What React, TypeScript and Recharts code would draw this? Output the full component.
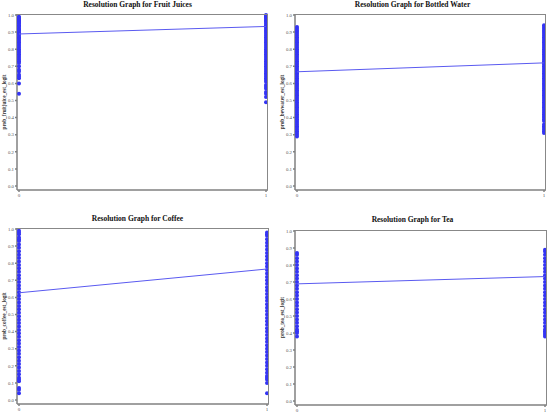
import { ScatterChart, Scatter, XAxis, YAxis } from 'recharts';

// observed predicted probabilities, split by actual outcome (0 / 1)
const fruitJuice0 = [0.99, 0.985, 0.98, 0.975, 0.97, 0.965, 0.96, 0.955, 0.95, 0.94, 0.935, 0.93, 0.92, 0.915, 0.91, 0.9, 0.895, 0.89, 0.88, 0.87, 0.865, 0.86, 0.85, 0.84, 0.83, 0.82, 0.81, 0.8, 0.79, 0.78, 0.77, 0.76, 0.75, 0.74, 0.73, 0.72, 0.7, 0.68, 0.67, 0.65, 0.64, 0.63, 0.6, 0.54];
const fruitJuice1 = [1.0, 0.995, 0.99, 0.985, 0.98, 0.97, 0.965, 0.96, 0.95, 0.94, 0.93, 0.92, 0.91, 0.9, 0.89, 0.88, 0.87, 0.86, 0.85, 0.84, 0.83, 0.82, 0.81, 0.8, 0.79, 0.78, 0.77, 0.76, 0.75, 0.74, 0.73, 0.72, 0.71, 0.7, 0.69, 0.68, 0.67, 0.66, 0.65, 0.64, 0.63, 0.62, 0.61, 0.59, 0.58, 0.57, 0.55, 0.54, 0.52, 0.49];

const water0 = [0.93, 0.92, 0.91, 0.9, 0.89, 0.88, 0.87, 0.86, 0.85, 0.84, 0.83, 0.82, 0.81, 0.8, 0.79, 0.78, 0.77, 0.76, 0.75, 0.74, 0.73, 0.72, 0.71, 0.7, 0.69, 0.68, 0.67, 0.66, 0.65, 0.64, 0.63, 0.62, 0.61, 0.6, 0.59, 0.58, 0.57, 0.56, 0.55, 0.54, 0.53, 0.52, 0.51, 0.5, 0.49, 0.48, 0.47, 0.46, 0.45, 0.44, 0.43, 0.42, 0.41, 0.4, 0.39, 0.38, 0.37, 0.36, 0.35, 0.34, 0.33, 0.32, 0.31, 0.3, 0.29];
const water1 = [0.94, 0.93, 0.92, 0.91, 0.9, 0.89, 0.88, 0.87, 0.86, 0.85, 0.84, 0.83, 0.82, 0.81, 0.8, 0.79, 0.78, 0.77, 0.76, 0.75, 0.74, 0.73, 0.72, 0.71, 0.7, 0.69, 0.68, 0.67, 0.66, 0.65, 0.64, 0.63, 0.62, 0.61, 0.6, 0.59, 0.58, 0.57, 0.56, 0.55, 0.54, 0.53, 0.52, 0.51, 0.5, 0.49, 0.48, 0.47, 0.46, 0.45, 0.44, 0.43, 0.42, 0.41, 0.4, 0.39, 0.38, 0.36, 0.35, 0.34, 0.33, 0.32, 0.31];

const coffee0 = [0.99, 0.98, 0.97, 0.95, 0.94, 0.93, 0.91, 0.89, 0.87, 0.85, 0.83, 0.81, 0.79, 0.77, 0.75, 0.73, 0.71, 0.69, 0.67, 0.65, 0.63, 0.61, 0.59, 0.57, 0.55, 0.53, 0.51, 0.49, 0.47, 0.45, 0.43, 0.41, 0.39, 0.37, 0.35, 0.33, 0.31, 0.29, 0.27, 0.25, 0.23, 0.21, 0.19, 0.17, 0.15, 0.13, 0.12, 0.11, 0.07, 0.06, 0.04];
const coffee1 = [0.98, 0.97, 0.96, 0.94, 0.92, 0.9, 0.88, 0.86, 0.84, 0.82, 0.8, 0.78, 0.76, 0.74, 0.72, 0.7, 0.68, 0.66, 0.64, 0.62, 0.6, 0.58, 0.56, 0.54, 0.52, 0.5, 0.48, 0.46, 0.44, 0.42, 0.4, 0.38, 0.36, 0.34, 0.32, 0.3, 0.28, 0.26, 0.24, 0.22, 0.2, 0.18, 0.16, 0.14, 0.13, 0.12, 0.1, 0.04];

const tea0 = [0.87, 0.86, 0.84, 0.82, 0.8, 0.78, 0.76, 0.74, 0.72, 0.7, 0.68, 0.66, 0.64, 0.62, 0.6, 0.58, 0.56, 0.54, 0.52, 0.5, 0.48, 0.46, 0.44, 0.42, 0.41, 0.4, 0.38];
const tea1 = [0.89, 0.88, 0.86, 0.84, 0.82, 0.8, 0.78, 0.76, 0.74, 0.72, 0.7, 0.68, 0.66, 0.64, 0.62, 0.6, 0.58, 0.56, 0.54, 0.52, 0.5, 0.48, 0.46, 0.44, 0.42, 0.41, 0.4, 0.39, 0.38];

// fitted line endpoints (at x = 0 and x = 1)
const fruitJuiceFit = [0.889, 0.933];
const waterFit = [0.668, 0.72];
const coffeeFit = [0.627, 0.766];
const teaFit = [0.689, 0.732];

const yTicks = [0, 0.1, 0.2, 0.3, 0.4, 0.5, 0.6, 0.7, 0.8, 0.9, 1.0];
const xTicks = [0, 1];

const POINT = '#3434f4';
const LINE = '#5a5af0';
const AXIS = '#808080';

const toPoints = (ys0: number[], ys1: number[]) => [
  ...ys0.map((y) => ({ x: 0, y })),
  ...ys1.map((y) => ({ x: 1, y })),
];

const Dot = (props: any) => <circle cx={props.cx} cy={props.cy} r={2} fill={POINT} />;

type PanelProps = {
  title: string;
  yLabel: string;
  ys0: number[];
  ys1: number[];
  fit: number[];
  left: number;
  top: number;
  margin: { top: number; right: number; bottom: number; left: number };
  titleY: number;
};

const W = 275;
const H = 207;
const Y_AXIS_W = 17;
const X_AXIS_H = 9;

const Panel = ({ title, yLabel, ys0, ys1, fit, left, top, margin, titleY }: PanelProps) => {
  const pts = toPoints(ys0, ys1);
  const fitData = fit.map((y, i) => ({ x: i, y }));
  const plotL = margin.left + Y_AXIS_W;
  const plotT = margin.top;
  const plotW = W - plotL - margin.right;
  const plotH = H - margin.top - margin.bottom - X_AXIS_H;
  return (
    <div style={{ position: 'absolute', left, top, width: W, height: H }}>
      <div
        style={{
          position: 'absolute',
          left: 0,
          width: W,
          top: titleY - 5,
          textAlign: 'center',
          fontFamily: '"Liberation Serif", serif',
          fontWeight: 'bold',
          fontSize: 7.5,
          lineHeight: '10px',
          color: '#111',
        }}
      >
        {title}
      </div>
      <ScatterChart width={W} height={H} margin={margin}>
        <XAxis
          type="number"
          dataKey="x"
          domain={[0, 1]}
          ticks={xTicks}
          padding={{ left: 2, right: 2 }}
          height={X_AXIS_H}
          tickSize={2}
          tickMargin={1}
          stroke={AXIS}
          strokeWidth={1.5}
          tick={{ fontSize: 5, fill: '#555', fontFamily: '"Liberation Serif", serif' }}
        />
        <YAxis
          type="number"
          dataKey="y"
          domain={[0, 1]}
          ticks={yTicks}
          padding={{ top: 1, bottom: 4 }}
          width={Y_AXIS_W}
          tickSize={2}
          tickMargin={1}
          stroke={AXIS}
          strokeWidth={1.5}
          tickFormatter={(v: number) => v.toFixed(1)}
          tick={{ fontSize: 4.8, fill: '#555', fontFamily: '"Liberation Serif", serif' }}
          label={(p: any) => {
            const vb = p.viewBox;
            const cx = vb.x + 4;
            const cy = vb.y + vb.height / 2;
            return (
              <text
                x={cx}
                y={cy}
                transform={`rotate(-90 ${cx} ${cy})`}
                textAnchor="middle"
                dominantBaseline="central"
                fontSize={5.2}
                fontWeight="bold"
                fontFamily='"Liberation Serif", serif'
                fill="#333"
              >
                {yLabel}
              </text>
            );
          }}
        />
        <Scatter data={pts} shape={Dot} isAnimationActive={false} />
        <Scatter
          data={fitData}
          line={{ stroke: LINE, strokeWidth: 1 }}
          shape={() => <g />}
          isAnimationActive={false}
        />
      </ScatterChart>
      <div
        style={{
          position: 'absolute',
          left: plotL,
          top: plotT,
          width: plotW,
          height: plotH,
          boxSizing: 'border-box',
          borderTop: '1px solid #888',
          borderRight: '1px solid #888',
          pointerEvents: 'none',
        }}
      />
    </div>
  );
};

export default function App() {
  return (
    <div style={{ position: 'relative', width: 550, height: 414, background: '#fff' }}>
      <style>{`body{margin:0}`}</style>
      <Panel
        title="Resolution Graph for Fruit Juices"
        yLabel="prob_fruitjuice_est_logit"
        ys0={fruitJuice0}
        ys1={fruitJuice1}
        fit={fruitJuiceFit}
        left={0}
        top={0}
        margin={{ top: 14, right: 7, bottom: 8, left: 0 }}
        titleY={5}
      />
      <Panel
        title="Resolution Graph for Bottled Water"
        yLabel="prob_bevwater_est_logit"
        ys0={water0}
        ys1={water1}
        fit={waterFit}
        left={275}
        top={0}
        margin={{ top: 14, right: 4, bottom: 8, left: 3 }}
        titleY={5}
      />
      <Panel
        title="Resolution Graph for Coffee"
        yLabel="prob_coffee_est_logit"
        ys0={coffee0}
        ys1={coffee1}
        fit={coffeeFit}
        left={0}
        top={207}
        margin={{ top: 21, right: 6, bottom: 1, left: 0 }}
        titleY={12}
      />
      <Panel
        title="Resolution Graph for Tea"
        yLabel="prob_tea_est_logit"
        ys0={tea0}
        ys1={tea1}
        fit={teaFit}
        left={275}
        top={207}
        margin={{ top: 23, right: 3, bottom: 0, left: 3 }}
        titleY={13}
      />
    </div>
  );
}
